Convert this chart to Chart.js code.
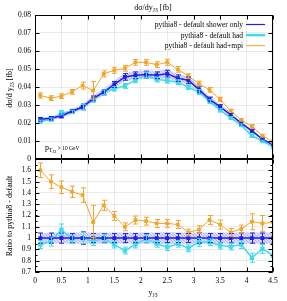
<!DOCTYPE html>
<html>
<head>
<meta charset="utf-8">
<script src="https://cdn.jsdelivr.net/npm/chart.js@4.4.1/dist/chart.umd.min.js"></script>
<style>
    body { margin: 0; background: #fff; width: 287px; height: 301px; position: relative; overflow: hidden; }
    canvas { position: absolute; left: 0; }
    #topChart { top: 0; }
    #ratioChart { top: 150px; }
</style>
</head>
<body>
<canvas id="topChart" width="287" height="170"></canvas>
<canvas id="ratioChart" width="287" height="151"></canvas>
<script>
// bin centres in y_J3
const yBins = [0.1, 0.3, 0.5, 0.7, 0.9, 1.1, 1.3, 1.5, 1.7, 1.9, 2.1, 2.3, 2.5, 2.7, 2.9, 3.1, 3.3, 3.5, 3.7, 3.9, 4.1, 4.3, 4.5];

// dsigma/dy [fb]
const showerOnly = [0.0221, 0.0226, 0.0239, 0.0265, 0.0289, 0.0337, 0.0371, 0.0414, 0.0456, 0.0465, 0.0469, 0.0465, 0.0474, 0.0449, 0.0438, 0.0386, 0.0331, 0.0290, 0.0246, 0.0199, 0.0156, 0.0110, 0.0079];
const hadOnly    = [0.0208, 0.0219, 0.0257, 0.0262, 0.0289, 0.0327, 0.0371, 0.0390, 0.0406, 0.0438, 0.0467, 0.0442, 0.0436, 0.0427, 0.0399, 0.0372, 0.0319, 0.0271, 0.0228, 0.0188, 0.0129, 0.0100, 0.0067];
const hadMpi     = [0.0353, 0.0338, 0.0349, 0.0373, 0.0408, 0.0380, 0.0473, 0.0493, 0.0504, 0.0537, 0.0537, 0.0524, 0.0537, 0.0498, 0.0460, 0.0419, 0.0384, 0.0331, 0.0267, 0.0217, 0.0180, 0.0129, 0.0096];

// ratio to pythia8 - default (shower only)
const ratioShower = [1, 1, 1, 1, 1, 1, 1, 1, 1, 1, 1, 1, 1, 1, 1, 1, 1, 1, 1, 1, 1, 1, 1];
const ratioHad    = [0.943, 0.97, 1.075, 0.99, 1.0, 0.97, 1.0, 0.943, 0.89, 0.943, 0.995, 0.95, 0.92, 0.95, 0.91, 0.963, 0.963, 0.934, 0.925, 0.943, 0.826, 0.905, 0.846];
const ratioMpi    = [1.60, 1.50, 1.45, 1.41, 1.38, 1.14, 1.29, 1.195, 1.10, 1.16, 1.15, 1.13, 1.13, 1.12, 1.05, 1.075, 1.16, 1.12, 1.05, 1.08, 1.145, 1.13, 1.14];

// relative uncertainties (ratio units)
const errShower = [0.045, 0.045, 0.045, 0.04, 0.055, 0.04, 0.04, 0.04, 0.04, 0.04, 0.04, 0.04, 0.04, 0.04, 0.04, 0.045, 0.04, 0.04, 0.04, 0.045, 0.045, 0.045, 0.045];
const errHad      = [0.035, 0.04, 0.05, 0.035, 0.05, 0.035, 0.035, 0.03, 0.03, 0.03, 0.035, 0.03, 0.03, 0.03, 0.03, 0.035, 0.03, 0.03, 0.03, 0.035, 0.04, 0.04, 0.05];
const errMpi      = [0.065, 0.06, 0.055, 0.05, 0.065, 0.15, 0.045, 0.04, 0.035, 0.035, 0.035, 0.035, 0.035, 0.035, 0.03, 0.035, 0.04, 0.04, 0.035, 0.035, 0.07, 0.07, 0.1];
const bandShower  = [0.045, 0.045, 0.045, 0.05, 0.05, 0.05, 0.05, 0.05, 0.05, 0.05, 0.05, 0.05, 0.055, 0.05, 0.05, 0.05, 0.05, 0.05, 0.05, 0.05, 0.05, 0.05, 0.05];

const xTicks = [0, 0.5, 1, 1.5, 2, 2.5, 3, 3.5, 4, 4.5];
const seriesLabels = ['pythia8 - default shower only', 'pythia8 - default had', 'pythia8 - default had+mpi'];

const BLUE = '#1f1fe8';
const CYAN = '#3ddbeb';
const ORANGE = '#f3a42a';
const SERIF = '"Liberation Serif", "DejaVu Serif", serif';
const GRID = 'rgba(0,0,0,0.08)';

function pts(values) {
    return yBins.map((x, i) => ({ x: x, y: values[i] }));
}

function bandPattern() {
    const c = document.createElement('canvas');
    c.width = 3; c.height = 3;
    const g = c.getContext('2d');
    g.fillStyle = 'rgba(175,175,250,0.4)';
    g.fillRect(0, 0, 3, 3);
    g.fillStyle = 'rgba(110,110,240,0.4)';
    g.fillRect(0, 0, 1, 1);
    g.fillRect(1, 1, 1, 1);
    g.fillRect(2, 2, 1, 1);
    return g.createPattern(c, 'repeat');
}

// text with sub-scripts: parts = [{t, size, dy}]
function drawRich(ctx, parts, x, y, align) {
    let total = 0;
    parts.forEach(p => {
        ctx.font = p.size + 'px ' + SERIF;
        total += ctx.measureText(p.t).width;
    });
    let cx = align === 'center' ? x - total / 2 : (align === 'right' ? x - total : x);
    ctx.textAlign = 'left';
    ctx.textBaseline = 'alphabetic';
    parts.forEach(p => {
        ctx.font = p.size + 'px ' + SERIF;
        ctx.fillText(p.t, cx, y + (p.dy || 0));
        cx += ctx.measureText(p.t).width;
    });
}

const errorBarsPlugin = {
    id: 'errorBars',
    afterDatasetsDraw(chart) {
        const { ctx, chartArea: a } = chart;
        const xs = chart.scales.x, ys = chart.scales.y;
        ctx.save();
        ctx.beginPath();
        ctx.rect(a.left, a.top, a.right - a.left, a.bottom - a.top);
        ctx.clip();
        chart.data.datasets.forEach(ds => {
            if (!ds.errors) return;
            ctx.strokeStyle = ds.borderColor;
            ctx.lineWidth = 1;
            ds.data.forEach((p, k) => {
                const e = ds.errors[k];
                const px = Math.round(xs.getPixelForValue(p.x)) + 0.5;
                const y1 = ys.getPixelForValue(p.y + e);
                const y2 = ys.getPixelForValue(p.y - e);
                ctx.beginPath();
                ctx.moveTo(px, y1); ctx.lineTo(px, y2);
                ctx.moveTo(px - 2.5, y1); ctx.lineTo(px + 2.5, y1);
                ctx.moveTo(px - 2.5, y2); ctx.lineTo(px + 2.5, y2);
                ctx.stroke();
            });
        });
        ctx.restore();
    }
};

const framePlugin = {
    id: 'frame',
    afterDraw(chart, args, opts) {
        const { ctx, chartArea: a } = chart;
        const xs = chart.scales.x, ys = chart.scales.y;
        const L = Math.round(a.left) + 0.5, R = Math.round(a.right) - 0.5;
        const T = Math.round(a.top) + 0.5, B = Math.round(a.bottom) - 0.5;
        ctx.save();
        ctx.strokeStyle = '#000';
        ctx.lineWidth = 1;
        ctx.beginPath();
        xTicks.forEach(v => {
            const px = Math.round(xs.getPixelForValue(v)) + 0.5;
            ctx.moveTo(px, B); ctx.lineTo(px, B - 4);
            ctx.moveTo(px, T); ctx.lineTo(px, T + 4);
        });
        ys.ticks.forEach(t => {
            const py = Math.round(ys.getPixelForValue(t.value)) + 0.5;
            ctx.moveTo(L, py); ctx.lineTo(L + 4, py);
            ctx.moveTo(R, py); ctx.lineTo(R - 4, py);
        });
        if (opts.minor) {
            for (let v = ys.min; v <= ys.max + 1e-9; v += opts.minor) {
                const py = Math.round(ys.getPixelForValue(v)) + 0.5;
                ctx.moveTo(L, py); ctx.lineTo(L + 2, py);
                ctx.moveTo(R, py); ctx.lineTo(R - 2, py);
            }
        }
        ctx.stroke();
        ctx.strokeRect(L, T, R - L, B - T);
        ctx.restore();
    }
};

const labelsPlugin = {
    id: 'labels',
    afterDraw(chart, args, opts) {
        const ctx = chart.ctx;
        ctx.save();
        ctx.fillStyle = '#000';
        (opts.texts || []).forEach(item => {
            if (item.rotate) {
                ctx.save();
                ctx.translate(item.x, item.y);
                ctx.rotate(-Math.PI / 2);
                drawRich(ctx, item.parts, 0, 0, 'center');
                ctx.restore();
            } else {
                drawRich(ctx, item.parts, item.x, item.y, item.align || 'left');
            }
        });
        (opts.legend || []).forEach((e, i) => {
            const yy = 24.5 + i * 10.6;
            drawRich(ctx, [{ t: e.label, size: 7.5 }], 243, yy + 2.5, 'right');
            ctx.strokeStyle = e.color;
            ctx.lineWidth = e.width;
            ctx.beginPath();
            ctx.moveTo(246, yy); ctx.lineTo(265, yy);
            ctx.stroke();
        });
        ctx.restore();
    }
};

function tickFont() {
    return { family: SERIF, size: 7.5 };
}

function renderTopChart() {
    const ctx = document.getElementById('topChart');
    if (!ctx) {
        console.error('Element with id "topChart" not found.');
        return;
    }
    const lower = showerOnly.map((v, i) => v * (1 - bandShower[i]));
    const upper = showerOnly.map((v, i) => v * (1 + bandShower[i]));
    new Chart(ctx.getContext('2d'), {
        type: 'line',
        data: {
            datasets: [
                { data: pts(lower), borderWidth: 0, pointRadius: 0, fill: false, order: 10, borderColor: 'rgba(0,0,0,0)' },
                { data: pts(upper), borderWidth: 0, pointRadius: 0, fill: '-1', order: 9, borderColor: 'rgba(0,0,0,0)', backgroundColor: bandPattern() },
                { label: seriesLabels[0], data: pts(showerOnly), borderColor: BLUE, backgroundColor: BLUE, borderWidth: 1.5, pointStyle: 'rect', pointRadius: 1.7, order: 1,
                  errors: showerOnly.map((v, i) => v * errShower[i]) },
                { label: seriesLabels[1], data: pts(hadOnly), borderColor: CYAN, backgroundColor: CYAN, borderWidth: 1.5, pointStyle: 'rect', pointRadius: 2, order: 2,
                  errors: hadOnly.map((v, i) => v * errHad[i] / ratioHad[i]) },
                { label: seriesLabels[2], data: pts(hadMpi), borderColor: ORANGE, backgroundColor: ORANGE, borderWidth: 1, pointStyle: 'rect', pointRadius: 2, order: 3,
                  errors: hadMpi.map((v, i) => v * errMpi[i] / ratioMpi[i]) }
            ]
        },
        options: {
            responsive: false,
            animation: false,
            devicePixelRatio: 1,
            layout: { padding: { left: 0, right: 14, top: 15, bottom: 0 } },
            scales: {
                x: {
                    type: 'linear', min: 0, max: 4.5,
                    afterFit: s => { s.height = 11; },
                    ticks: { display: false, stepSize: 0.5 },
                    grid: { color: GRID, drawTicks: false },
                    border: { display: false }
                },
                y: {
                    min: 0, max: 0.08,
                    afterFit: s => { s.width = 35; },
                    ticks: { stepSize: 0.01, padding: 4, autoSkip: false, color: '#000', font: tickFont(), callback: v => String(+v.toFixed(2)) },
                    grid: { color: GRID, drawTicks: false },
                    border: { display: false }
                }
            },
            plugins: {
                legend: { display: false },
                tooltip: { enabled: false },
                frame: {},
                labels: {
                    texts: [
                        { parts: [{ t: 'd\u03c3/dy', size: 8 }, { t: 'J3', size: 5.5, dy: 1.5 }, { t: ' [fb]', size: 8 }], x: 153, y: 10, align: 'center' },
                        { parts: [{ t: 'd\u03c3/d y', size: 8 }, { t: 'J3', size: 5.5, dy: 1.5 }, { t: ' [fb]', size: 8 }], x: 12, y: 88, rotate: true },
                        { parts: [{ t: 'p', size: 8 }, { t: 'T', size: 5.5, dy: 1.5 }, { t: 'J3', size: 4.5, dy: 2.5 }, { t: ' > 10 GeV', size: 5.5 }], x: 45, y: 150 }
                    ],
                    legend: [
                        { label: seriesLabels[0], color: BLUE, width: 1.2 },
                        { label: seriesLabels[1], color: CYAN, width: 2.5 },
                        { label: seriesLabels[2], color: ORANGE, width: 1 }
                    ]
                }
            }
        },
        plugins: [errorBarsPlugin, framePlugin, labelsPlugin]
    });
}

function renderRatioChart() {
    const ctx = document.getElementById('ratioChart');
    if (!ctx) {
        console.error('Element with id "ratioChart" not found.');
        return;
    }
    const lower = ratioShower.map((v, i) => v - bandShower[i]);
    const upper = ratioShower.map((v, i) => v + bandShower[i]);
    new Chart(ctx.getContext('2d'), {
        type: 'line',
        data: {
            datasets: [
                { data: pts(lower), borderWidth: 0, pointRadius: 0, fill: false, order: 10, borderColor: 'rgba(0,0,0,0)' },
                { data: pts(upper), borderWidth: 0, pointRadius: 0, fill: '-1', order: 9, borderColor: 'rgba(0,0,0,0)', backgroundColor: bandPattern() },
                { label: seriesLabels[0], data: pts(ratioShower), borderColor: BLUE, backgroundColor: BLUE, borderWidth: 1.5, pointStyle: 'rect', pointRadius: 1.7, order: 1, errors: errShower },
                { label: seriesLabels[1], data: pts(ratioHad), borderColor: CYAN, backgroundColor: CYAN, borderWidth: 1.5, pointStyle: 'rect', pointRadius: 2, order: 2, errors: errHad },
                { label: seriesLabels[2], data: pts(ratioMpi), borderColor: ORANGE, backgroundColor: ORANGE, borderWidth: 1, pointStyle: 'rect', pointRadius: 2, order: 3, errors: errMpi }
            ]
        },
        options: {
            responsive: false,
            animation: false,
            devicePixelRatio: 1,
            layout: { padding: { left: 0, right: 14, top: 9, bottom: 0 } },
            scales: {
                x: {
                    type: 'linear', min: 0, max: 4.5,
                    afterFit: s => { s.height = 29; },
                    afterBuildTicks: s => { s.ticks = xTicks.map(v => ({ value: v })); },
                    ticks: { padding: 5, color: '#000', font: tickFont(), autoSkip: false, maxRotation: 0, callback: v => String(+v.toFixed(1)) },
                    grid: { color: GRID, drawTicks: false },
                    border: { display: false }
                },
                y: {
                    min: 0.7, max: 1.7,
                    afterFit: s => { s.width = 35; },
                    ticks: { stepSize: 0.1, padding: 4, autoSkip: false, color: '#000', font: tickFont(), callback: v => (v > 1.65 ? '' : String(+v.toFixed(1))) },
                    grid: { color: GRID, drawTicks: false },
                    border: { display: false }
                }
            },
            plugins: {
                legend: { display: false },
                tooltip: { enabled: false },
                frame: { minor: 0.05 },
                labels: {
                    texts: [
                        { parts: [{ t: 'Ratio to pythia8 - default', size: 8 }], x: 12, y: 66, rotate: true },
                        { parts: [{ t: 'y', size: 8 }, { t: 'J3', size: 5.5, dy: 1.5 }], x: 153, y: 145, align: 'center' }
                    ]
                }
            }
        },
        plugins: [errorBarsPlugin, framePlugin, labelsPlugin]
    });
}

renderTopChart();
renderRatioChart();
</script>
</body>
</html>
